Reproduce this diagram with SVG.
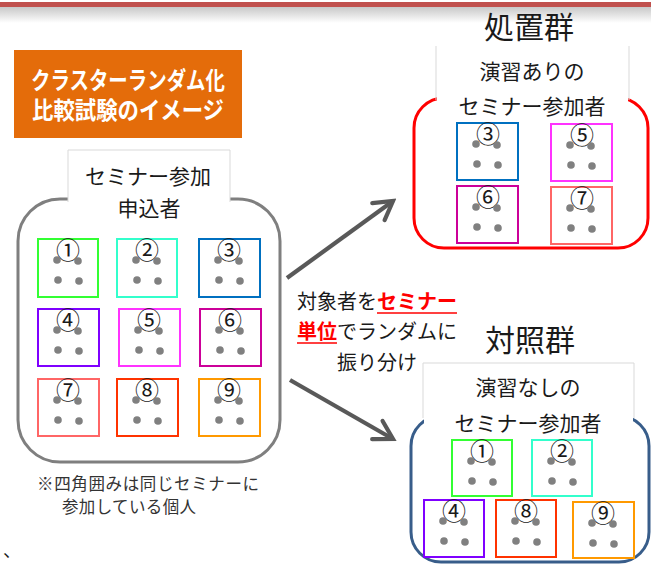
<svg xmlns="http://www.w3.org/2000/svg" width="651" height="564" viewBox="0 0 651 564">
<defs>
<linearGradient id="shadow" x1="0" y1="0" x2="0" y2="1">
<stop offset="0" stop-color="#c8c8c8"/>
<stop offset="1" stop-color="#ffffff"/>
</linearGradient>
<g id="dots" fill="#808080">
<circle cx="19" cy="21" r="3.8"/>
<circle cx="40" cy="22" r="3.8"/>
<circle cx="20" cy="41" r="3.8"/>
<circle cx="41" cy="42" r="3.8"/>
</g>
<marker id="chev" markerUnits="userSpaceOnUse" viewBox="-24 -14 28 28" markerWidth="28" markerHeight="28" refX="0" refY="0" orient="auto">
<path d="M-18,-10.5 L0,0 L-18,10.5" fill="none" stroke="#595959" stroke-width="4.2" stroke-linecap="round" stroke-linejoin="miter"/>
</marker>
<style>
text{font-family:"Noto Sans CJK JP","Noto Sans",sans-serif;fill:#1a1a1a;}
.num{font-size:24px;text-anchor:middle;}
.lbl{font-size:21px;text-anchor:middle;}
.grp{font-size:30px;text-anchor:middle;}
.title{font-size:24px;font-weight:bold;fill:#ffffff;text-anchor:middle;}
.cl rect{fill:none;stroke-width:2;}
.lbox{fill:#ffffff;stroke:#d9d9d9;stroke-width:1;}
.red{fill:#ff0000;font-weight:bold;}
.note{font-size:16.5px;fill:#333333;}
</style>
</defs>

<rect x="0" y="0" width="651" height="564" fill="#ffffff"/>
<rect x="0" y="7" width="651" height="16" fill="url(#shadow)"/>
<rect x="0" y="2" width="651" height="5" fill="#c0504d"/>

<g id="title">
<rect x="14" y="50" width="228" height="88" fill="#e46c0a"/>
<text class="title" x="128" y="89" textLength="194" lengthAdjust="spacingAndGlyphs">クラスターランダム化</text>
<text class="title" x="128" y="119" textLength="192" lengthAdjust="spacingAndGlyphs">比較試験のイメージ</text>
</g>

<g id="applicants">
<rect x="18" y="199" width="262" height="263" rx="42" ry="42" fill="none" stroke="#7f7f7f" stroke-width="3"/>
<path class="lbox" d="M68,202 V150 H230 V202"/>
<rect x="69" y="151" width="160" height="55" fill="#ffffff"/>
<text class="lbl" x="148" y="184">セミナー参加</text>
<text class="lbl" x="149" y="216">申込者</text>
<g class="cl" transform="translate(38,239)"><rect width="60" height="58" stroke="#33ff33"/><text class="num" x="30" y="20">①</text><use href="#dots"/></g>
<g class="cl" transform="translate(117,239)"><rect width="60" height="58" stroke="#33ffcc"/><text class="num" x="30" y="20">②</text><use href="#dots"/></g>
<g class="cl" transform="translate(199,239)"><rect width="61" height="58" stroke="#0070c0"/><text class="num" x="30" y="20">③</text><use href="#dots"/></g>
<g class="cl" transform="translate(38,309)"><rect width="61" height="57" stroke="#7f00ff"/><text class="num" x="30" y="20">④</text><use href="#dots"/></g>
<g class="cl" transform="translate(119,309)"><rect width="61" height="57" stroke="#ff33ff"/><text class="num" x="30" y="20">⑤</text><use href="#dots"/></g>
<g class="cl" transform="translate(200,309)"><rect width="61" height="57" stroke="#cc0099"/><text class="num" x="30" y="20">⑥</text><use href="#dots"/></g>
<g class="cl" transform="translate(38,379)"><rect width="61" height="57" stroke="#ff6666"/><text class="num" x="30" y="20">⑦</text><use href="#dots"/></g>
<g class="cl" transform="translate(117,379)"><rect width="61" height="57" stroke="#ff3300"/><text class="num" x="30" y="20">⑧</text><use href="#dots"/></g>
<g class="cl" transform="translate(199,379)"><rect width="61" height="57" stroke="#ff9900"/><text class="num" x="30" y="20">⑨</text><use href="#dots"/></g>
</g>

<g id="note">
<text class="note" x="37" y="490" textLength="222" lengthAdjust="spacing">※四角囲みは同じセミナーに</text>
<text class="note" x="62" y="513" textLength="134" lengthAdjust="spacing">参加している個人</text>
</g>

<g id="treatment">
<text class="grp" x="529" y="38">処置群</text>
<rect x="414" y="98" width="234" height="150" rx="30" ry="30" fill="none" stroke="#ff0000" stroke-width="3"/>
<path class="lbox" d="M436,100 V46 M629,46 V100"/>
<rect x="437" y="46" width="191" height="70" fill="#ffffff"/>
<text class="lbl" x="532" y="79">演習ありの</text>
<text class="lbl" x="532" y="114">セミナー参加者</text>
<g class="cl" transform="translate(457,123)"><rect width="61" height="57" stroke="#0070c0"/><text class="num" x="31" y="20">③</text><use href="#dots"/></g>
<g class="cl" transform="translate(551,124)"><rect width="61" height="57" stroke="#ff33ff"/><text class="num" x="31" y="20">⑤</text><use href="#dots"/></g>
<g class="cl" transform="translate(457,186)"><rect width="61" height="57" stroke="#cc0099"/><text class="num" x="31" y="20">⑥</text><use href="#dots"/></g>
<g class="cl" transform="translate(551,187)"><rect width="61" height="57" stroke="#ff6666"/><text class="num" x="31" y="20">⑦</text><use href="#dots"/></g>
</g>

<g id="control">
<text class="grp" x="530" y="351">対照群</text>
<rect x="411" y="416" width="238" height="146" rx="30" ry="30" fill="none" stroke="#385d8a" stroke-width="3"/>
<path class="lbox" d="M423,418 V363 H634 V418"/>
<rect x="424" y="364" width="209" height="70" fill="#ffffff"/>
<text class="lbl" x="528" y="395">演習なしの</text>
<text class="lbl" x="528" y="431">セミナー参加者</text>
<g class="cl" transform="translate(452,440)"><rect width="60" height="56" stroke="#33ff33"/><text class="num" x="30" y="20">①</text><use href="#dots"/></g>
<g class="cl" transform="translate(532,440)"><rect width="60" height="56" stroke="#33ffcc"/><text class="num" x="30" y="20">②</text><use href="#dots"/></g>
<g class="cl" transform="translate(424,500)"><rect width="60" height="57" stroke="#7f00ff"/><text class="num" x="30" y="20">④</text><use href="#dots"/></g>
<g class="cl" transform="translate(496,500)"><rect width="60" height="57" stroke="#ff3300"/><text class="num" x="30" y="20">⑧</text><use href="#dots"/></g>
<g class="cl" transform="translate(573,502)"><rect width="61" height="56" stroke="#ff9900"/><text class="num" x="30" y="20">⑨</text><use href="#dots"/></g>
</g>

<g id="connectors" fill="none" stroke="#595959" stroke-width="4.2">
<line x1="287" y1="278" x2="393" y2="201" marker-end="url(#chev)"/>
<line x1="290" y1="380" x2="393" y2="439" marker-end="url(#chev)"/>
</g>

<g id="middle-label">
<text x="297" y="309" style="font-size:20px">対象者を<tspan class="red">セミナー</tspan></text>
<line x1="377" y1="313" x2="457" y2="313" stroke="#ff0000" stroke-width="1.5"/>
<text x="297" y="339" style="font-size:20px"><tspan class="red">単位</tspan>でランダムに</text>
<line x1="297" y1="343" x2="337" y2="343" stroke="#ff0000" stroke-width="1.5"/>
<text x="377" y="370" style="font-size:20px;text-anchor:middle">振り分け</text>
</g>

<text x="3" y="557" style="font-size:18px">、</text>
</svg>
